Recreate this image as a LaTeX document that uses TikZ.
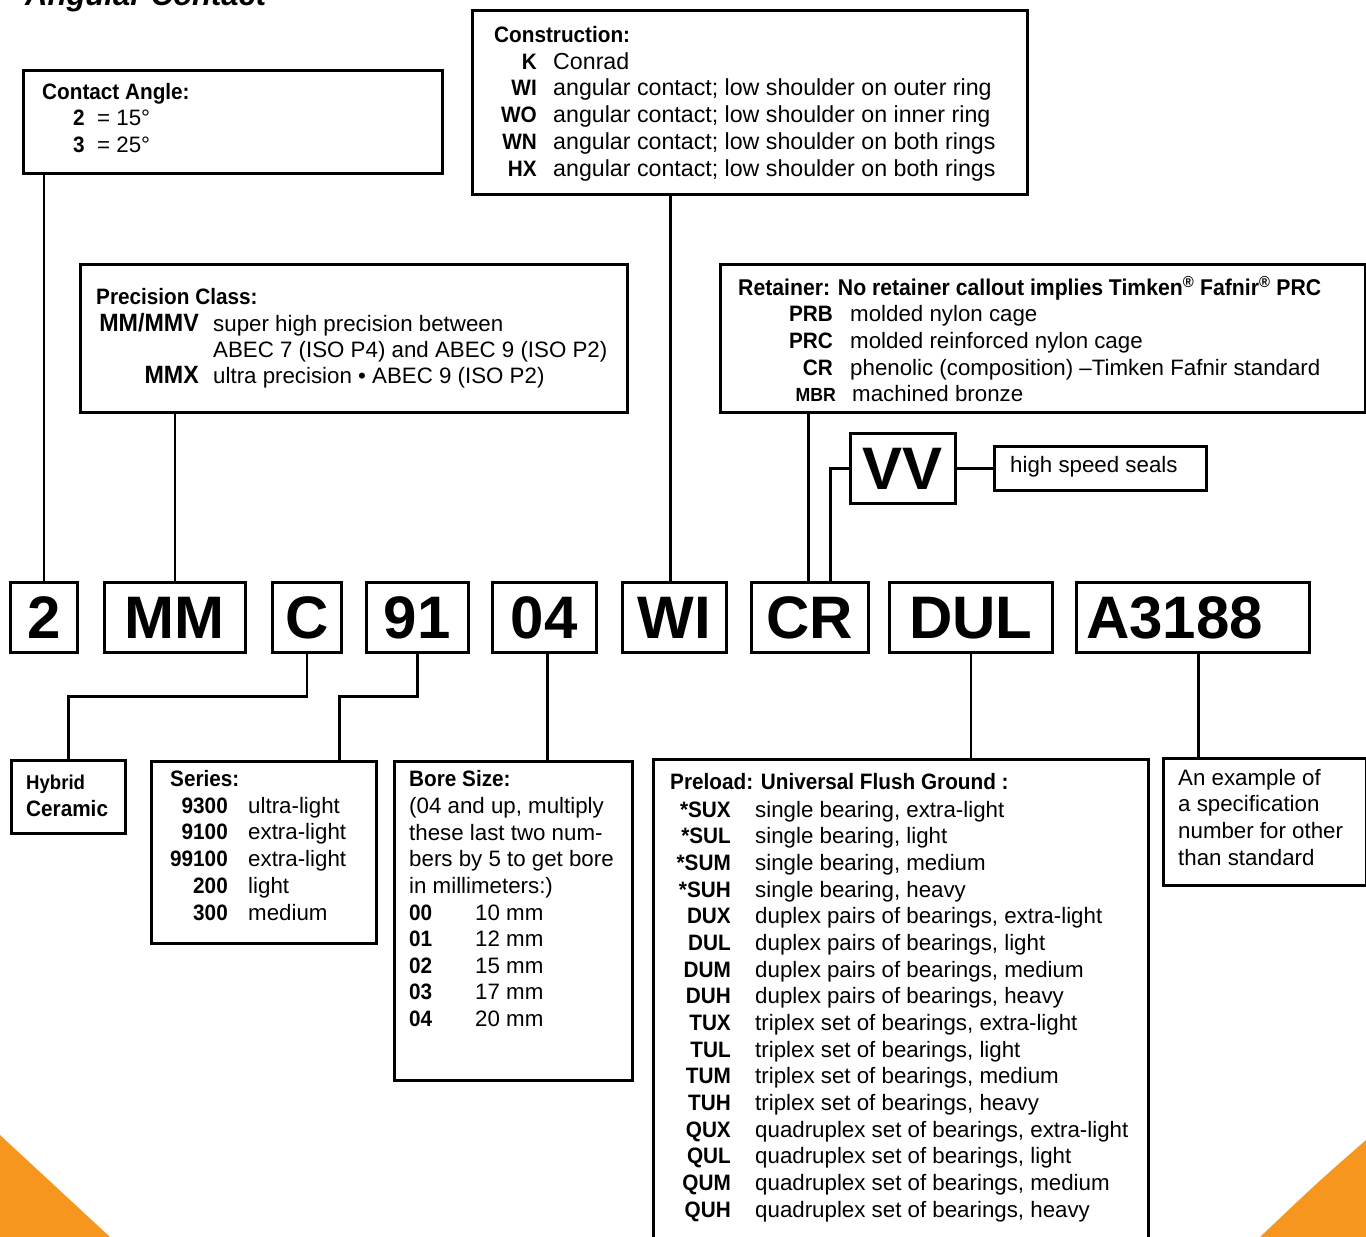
\documentclass[tikz,border=0pt]{standalone}
\usepackage{fontspec}
\setmainfont{Liberation Sans}[BoldFeatures={FakeStretch=0.93}]
\newfontfamily\bigcodefont{Liberation Sans}
\usetikzlibrary{calc}

\definecolor{cornerorange}{RGB}{247,150,30}

\tikzset{
  box/.style={draw, line width=2.6pt, inner sep=0pt, anchor=north west},
  codebox/.style={box, minimum height=70pt,
    font=\bigcodefont\bfseries\fontsize{60}{60}\selectfont, text height=43pt, text depth=0pt},
  link/.style={line width=2.6pt},
  head/.style={anchor=base west, inner sep=0pt, font=\bfseries},
  key/.style={anchor=base east, inner sep=0pt, font=\bfseries},
  desc/.style={anchor=base west, inner sep=0pt},
}

\begin{document}
\fontsize{22.3}{26.7}\selectfont
\begin{tikzpicture}[x=1pt,y=-1pt]
  \useasboundingbox (0,0) rectangle (1366,1237);
  \fill[white] (0,0) rectangle (1366,1237);

  % orange page corners
  \fill[cornerorange] (0,1135) -- (110,1237) -- (0,1237) -- cycle;
  \fill[cornerorange] (1366,1140) .. controls (1318,1182) .. (1260,1237) -- (1366,1237) -- cycle;

  % title, cut by the page top
  \node[anchor=base west, inner sep=0pt, font=\bfseries\itshape\fontsize{31}{31}\selectfont] (title) at (25,5) {Angular Contact};

  % the part number
  \node[codebox, minimum width=67pt]  (code2)   at (9,581)    {2};
  \node[codebox, minimum width=141pt] (codeMM)  at (103,581)  {MM};
  \node[codebox, minimum width=69pt]  (codeC)   at (271,581)  {C};
  \node[codebox, minimum width=102pt] (code91)  at (365,581)  {91};
  \node[codebox, minimum width=104pt] (code04)  at (491,581)  {04};
  \node[codebox, minimum width=104pt] (codeWI)  at (621,581)  {WI};
  \node[codebox, minimum width=117pt] (codeCR)  at (750,581)  {CR};
  \node[codebox, minimum width=163pt] (codeDUL) at (888,581)  {DUL};
  \node[codebox, text width=213pt, align=left, inner xsep=10pt] (codeA) at (1075,581) {A3188};
  \node[codebox, minimum width=105pt] (VV)      at (849,432)  {VV};

  % contact angle
  \node[box, minimum width=419pt, minimum height=103pt] (conangle) at (22,69) {};
  \node[head] (conhead) at (42,99) {Contact Angle:};
  \node[head] (conk2) at (73,125) {2};
  \node[desc] (cond2) at (97,125) {= 15°};
  \node[head] (conk3) at (73,152) {3};
  \node[desc] (cond3) at (97,152) {= 25°};

  % construction
  \node[box, minimum width=555pt, minimum height=184pt] (construct) at (471,9) {};
  \node[head] (cthead) at (494,42) {Construction:};
  \foreach \k/\d [count=\i from 0] in {K/Conrad,
      WI/{angular contact; low shoulder on outer ring},
      WO/{angular contact; low shoulder on inner ring},
      WN/{angular contact; low shoulder on both rings},
      HX/{angular contact; low shoulder on both rings}} {
    \node[key]  (ctk\i) at (537,{69+26.75*\i}) {\k};
    \node[desc, font=\fontsize{23.2}{26.7}\selectfont] (ctd\i) at (553,{69+26.75*\i}) {\d};
  }

  % precision class
  \node[box, minimum width=547pt, minimum height=148pt] (precision) at (79,263) {};
  \node[head] (pchead) at (96,304) {Precision Class:};
  \node[key, font=\bfseries\fontsize{25}{25}\selectfont] (pck1) at (199,331) {MM/MMV};
  \node[desc] (pcd1) at (213,331) {super high precision between};
  \node[desc] (pcd2) at (213,357) {ABEC 7 (ISO P4) and ABEC 9 (ISO P2)};
  \node[key, font=\bfseries\fontsize{25}{25}\selectfont] (pck3) at (199,383) {MMX};
  \node[desc] (pcd3) at (213,383) {ultra precision • ABEC 9 (ISO P2)};

  % retainer
  \node[box, minimum width=645pt, minimum height=148pt] (retainer) at (719,263) {};
  \node[head, font=\bfseries\fontsize{22.8}{26.7}\selectfont] (rthead) at (738,295) {Retainer: No retainer callout implies Timken\textsuperscript{®} Fafnir\textsuperscript{®} PRC};
  \node[key]  (rtk1) at (833,321) {PRB};
  \node[desc] (rtd1) at (850,321) {molded nylon cage};
  \node[key]  (rtk2) at (833,348) {PRC};
  \node[desc] (rtd2) at (850,348) {molded reinforced nylon cage};
  \node[key]  (rtk3) at (833,375) {CR};
  \node[desc] (rtd3) at (850,375) {phenolic (composition) –Timken Fafnir standard};
  \node[key, font=\bfseries\fontsize{19}{19}\selectfont] (rtk4) at (836,401) {MBR};
  \node[desc] (rtd4) at (852,401) {machined bronze};

  % seals
  \node[box, minimum width=212pt, minimum height=44pt] (seals) at (993,445) {};
  \node[desc] (sealtext) at (1010,472) {high speed seals};

  % hybrid ceramic
  \node[box, minimum width=114pt, minimum height=73pt] (hybrid) at (10,759) {};
  \node[head, font=\bfseries\fontsize{20}{20}\selectfont] (hyb1) at (26,789) {Hybrid};
  \node[head] (hyb2) at (26,816) {Ceramic};

  % series
  \node[box, minimum width=225pt, minimum height=182pt] (series) at (150,760) {};
  \node[head] (srhead) at (170,786) {Series:};
  \foreach \k/\d [count=\i from 0] in {9300/ultra-light, 9100/extra-light,
      99100/extra-light, 200/light, 300/medium} {
    \node[key]  (srk\i) at (228,{813+26.75*\i}) {\k};
    \node[desc] (srd\i) at (248,{813+26.75*\i}) {\d};
  }

  % bore size
  \node[box, minimum width=238pt, minimum height=319pt] (bore) at (393,760) {};
  \node[head] (bshead) at (409,786) {Bore Size:};
  \node[desc] (bsl1) at (409,813) {(04 and up, multiply};
  \node[desc] (bsl2) at (409,840) {these last two num-};
  \node[desc] (bsl3) at (409,866) {bers by 5 to get bore};
  \node[desc] (bsl4) at (409,893) {in millimeters:)};
  \foreach \k/\d [count=\i from 0] in {00/10, 01/12, 02/15, 03/17, 04/20} {
    \node[head] (bsk\i) at (409,{920+26.6*\i}) {\k};
    \node[desc] (bsd\i) at (475,{920+26.6*\i}) {\d\ mm};
  }

  % preload (runs off the page)
  \node[box, minimum width=495pt, minimum height=520pt] (preload) at (652,758) {};
  \node[head] (plhead) at (670,789) {Preload: Universal Flush Ground :};
  \foreach \k/\d [count=\i from 0] in {
      {*SUX}/{single bearing, extra-light}, {*SUL}/{single bearing, light},
      {*SUM}/{single bearing, medium}, {*SUH}/{single bearing, heavy},
      DUX/{duplex pairs of bearings, extra-light}, DUL/{duplex pairs of bearings, light},
      DUM/{duplex pairs of bearings, medium}, DUH/{duplex pairs of bearings, heavy},
      TUX/{triplex set of bearings, extra-light}, TUL/{triplex set of bearings, light},
      TUM/{triplex set of bearings, medium}, TUH/{triplex set of bearings, heavy},
      QUX/{quadruplex set of bearings, extra-light}, QUL/{quadruplex set of bearings, light},
      QUM/{quadruplex set of bearings, medium}, QUH/{quadruplex set of bearings, heavy}} {
    \node[key]  (plk\i) at (731,{817+26.67*\i}) {\k};
    \node[desc] (pld\i) at (755,{817+26.67*\i}) {\d};
  }

  % example note
  \node[box, minimum width=203pt, minimum height=127pt] (example) at (1162,757) {};
  \node[desc] (exl1) at (1178,785) {An example of};
  \node[desc] (exl2) at (1178,811) {a specification};
  \node[desc] (exl3) at (1178,838) {number for other};
  \node[desc] (exl4) at (1178,865) {than standard};

  % connectors up
  \draw[link] (code2.north) -- (code2.north |- conangle.south);
  \draw[link] (codeMM.north) -- (codeMM.north |- precision.south);
  \draw[link] ([xshift=-4pt]codeWI.north) -- ([xshift=-4pt]codeWI.north |- construct.south);
  \draw[link] ([xshift=-1.5pt]codeCR.north) -- ([xshift=-1.5pt]codeCR.north |- retainer.south);
  \draw[link] (VV.west) -| ([xshift=20.5pt]codeCR.north);
  \draw[link] (VV.east) -- (seals.west);

  % connectors down
  \draw[link] (codeC.south) -- ++(0,43) -| (hybrid.north);
  \draw[link] (code91.south) -- ++(0,43) -| ([xshift=75.5pt]series.north);
  \draw[link] ([xshift=3pt]code04.south) -- ([xshift=3pt]code04.south |- bore.north);
  \draw[link] (codeDUL.south) -- (codeDUL.south |- preload.north);
  \draw[link] ([xshift=5.5pt]codeA.south) -- ([xshift=5.5pt]codeA.south |- example.north);
\end{tikzpicture}
\end{document}
